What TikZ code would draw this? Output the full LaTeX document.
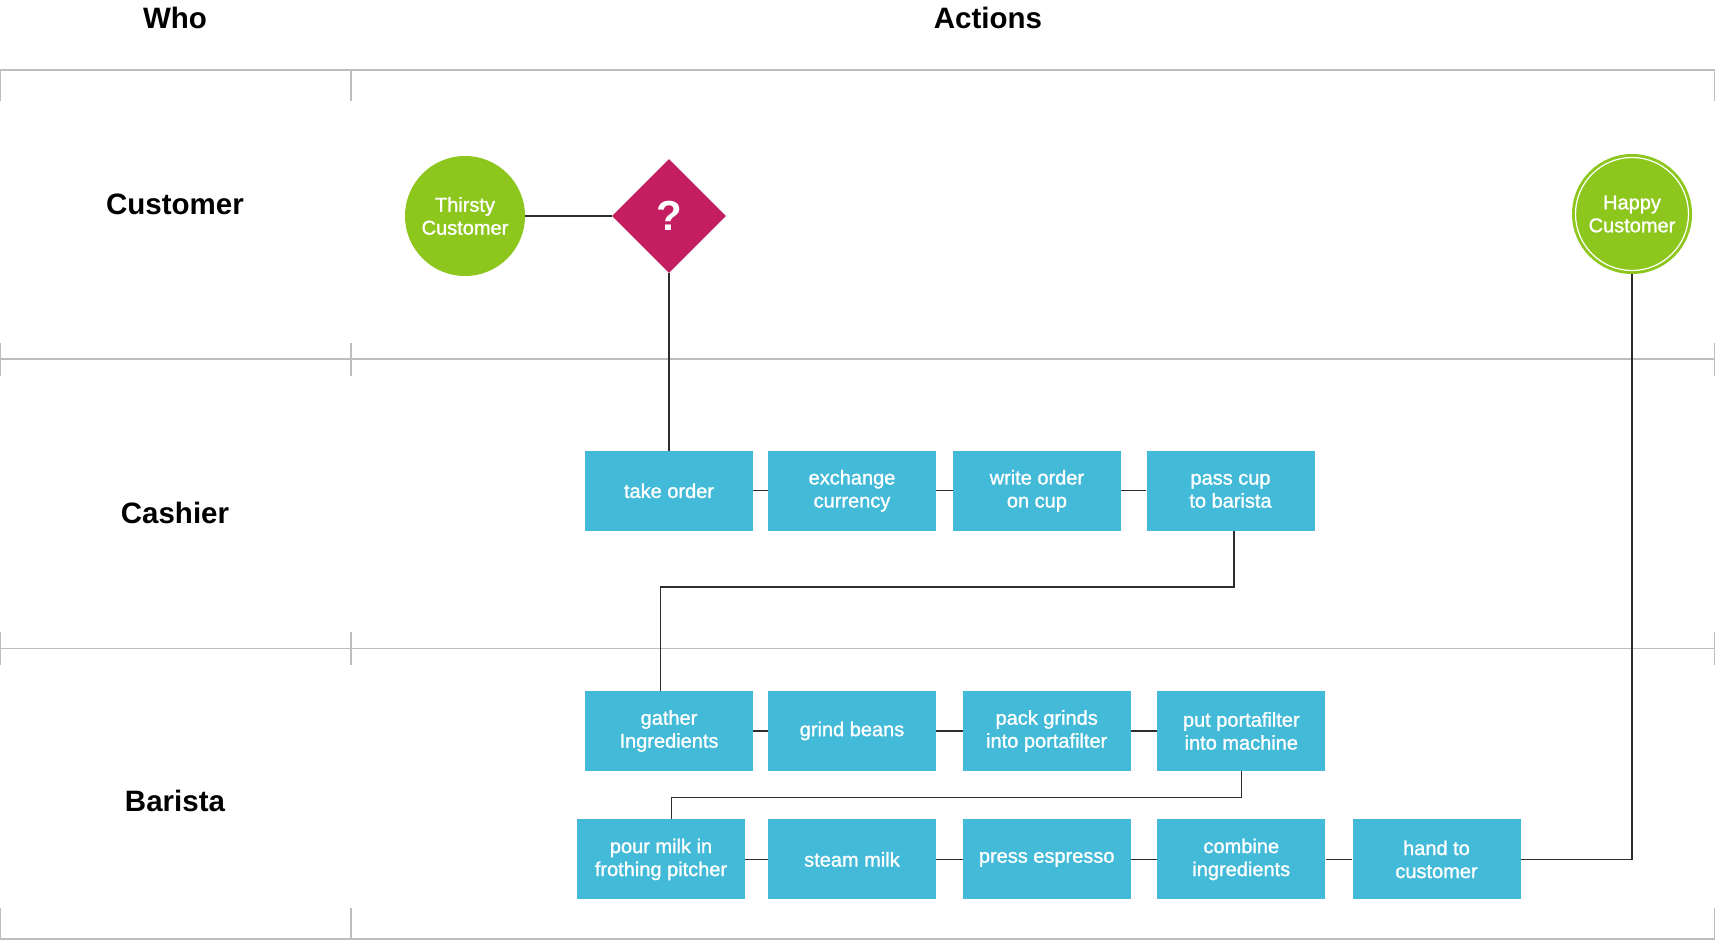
\documentclass[tikz,border=0pt]{standalone}
\usepackage{fontspec}
\setmainfont{Liberation Sans}
\newfontfamily\medfont[FakeBold=1.2]{Liberation Sans}
\usetikzlibrary{shapes.geometric,calc}
\definecolor{boxblue}{RGB}{66,186,216}
\definecolor{leafgreen}{RGB}{141,199,30}
\definecolor{qmagenta}{RGB}{196,30,99}
\definecolor{lanegray}{RGB}{190,190,190}
\definecolor{conngray}{RGB}{45,45,45}
\tikzset{
  lane/.style={draw=lanegray, line width=1.2pt},
  conn/.style={draw=conngray, line width=1.3pt},
  head/.style={font=\fontsize{29.5}{34}\selectfont\bfseries, text=black},
  act/.style={fill=boxblue, text=white, minimum width=168pt, minimum height=80pt,
    inner sep=0pt, align=center, font=\medfont\fontsize{20}{23}\selectfont},
  endpoint/.style={circle, fill=leafgreen, text=white, minimum size=120pt, inner sep=0pt,
    align=center, font=\medfont\fontsize{20}{23}\selectfont},
  decision/.style={diamond, fill=qmagenta, text=white, minimum width=114pt, minimum height=114pt,
    inner sep=0pt, aspect=1, font=\fontsize{42}{46}\selectfont\bfseries},
}
\begin{document}
\begin{tikzpicture}[x=1pt,y=-1pt]
\useasboundingbox (0,0) rectangle (1715,940);
% lanes
\foreach \yy in {70,359,648.6,939} {
  \draw[lane] (0,\yy) -- (1715,\yy);
}
\foreach \xx in {0.8,351,1714.2} {
  \draw[lane] (\xx,70) -- (\xx,101);
  \draw[lane] (\xx,343) -- (\xx,376);
  \draw[lane] (\xx,632) -- (\xx,665);
  \draw[lane] (\xx,908) -- (\xx,939);
}
% headers
\node[head] (who) at (175,18) {Who};
\node[head] (actions) at (988,18) {Actions};
\node[head] (lcust) at (175,204) {Customer};
\node[head] (lcash) at (175,513) {Cashier};
\node[head] (lbar) at (175,801) {Barista};
% customer lane
\node[endpoint] (thirsty) at (465,216) {Thirsty\\Customer};
\node[decision] (q) at (669,216) {?};
\node[endpoint] (happy) at (1632,214) {Happy\\Customer};
\draw[white, line width=1.2pt] (happy.center) circle[radius=56.5];
% cashier lane
\node[act] (take) at (669,490.8) {take order};
\node[act] (exch) at (852,490.8) {exchange\\currency};
\node[act] (write) at (1036.9,490.8) {write order\\on cup};
\node[act] (pass) at (1230.5,490.8) {pass cup\\to barista};
% barista lane
\node[act] (gather) at (669,731) {gather\\Ingredients};
\node[act] (grind) at (852,731) {grind beans};
\node[act] (pack) at (1046.7,731) {pack grinds\\into portafilter};
\node[act] (put) at (1241.3,731) {put portafilter\\into machine};
\node[act] (pour) at (661,859.4) {pour milk in\\frothing pitcher};
\node[act] (steam) at (852,859.4) {steam milk};
\node[act] (press) at (1046.7,859.4) {press espresso};
\node[act] (combine) at (1241.3,859.4) {combine\\ingredients};
\node[act] (hand) at (1436.5,859.4) {hand to\\customer};
% connectors
\coordinate (k1) at (660.7,587);
\coordinate (k2) at (671.3,797.3);
\draw[conn] (thirsty.east) -- (q.west);
\draw[conn] (q.south) -- (take.north);
\draw[conn] (take.east) -- (exch.west);
\draw[conn] (exch.east) -- (write.west);
\draw[conn] (write.east) -- (pass.west);
\draw[conn] ([xshift=3.5pt]pass.south) |- (k1) -- (k1 |- gather.north);
\draw[conn] (gather.east) -- (grind.west);
\draw[conn] (grind.east) -- (pack.west);
\draw[conn] (pack.east) -- (put.west);
\draw[conn] (put.south) |- (k2) -- (k2 |- pour.north);
\draw[conn] (pour.east) -- (steam.west);
\draw[conn] (steam.east) -- (press.west);
\draw[conn] (press.east) -- (combine.west);
\draw[conn] (combine.east) -- (hand.west);
\draw[conn] (hand.east) -| (happy.south);
\end{tikzpicture}
\end{document}
